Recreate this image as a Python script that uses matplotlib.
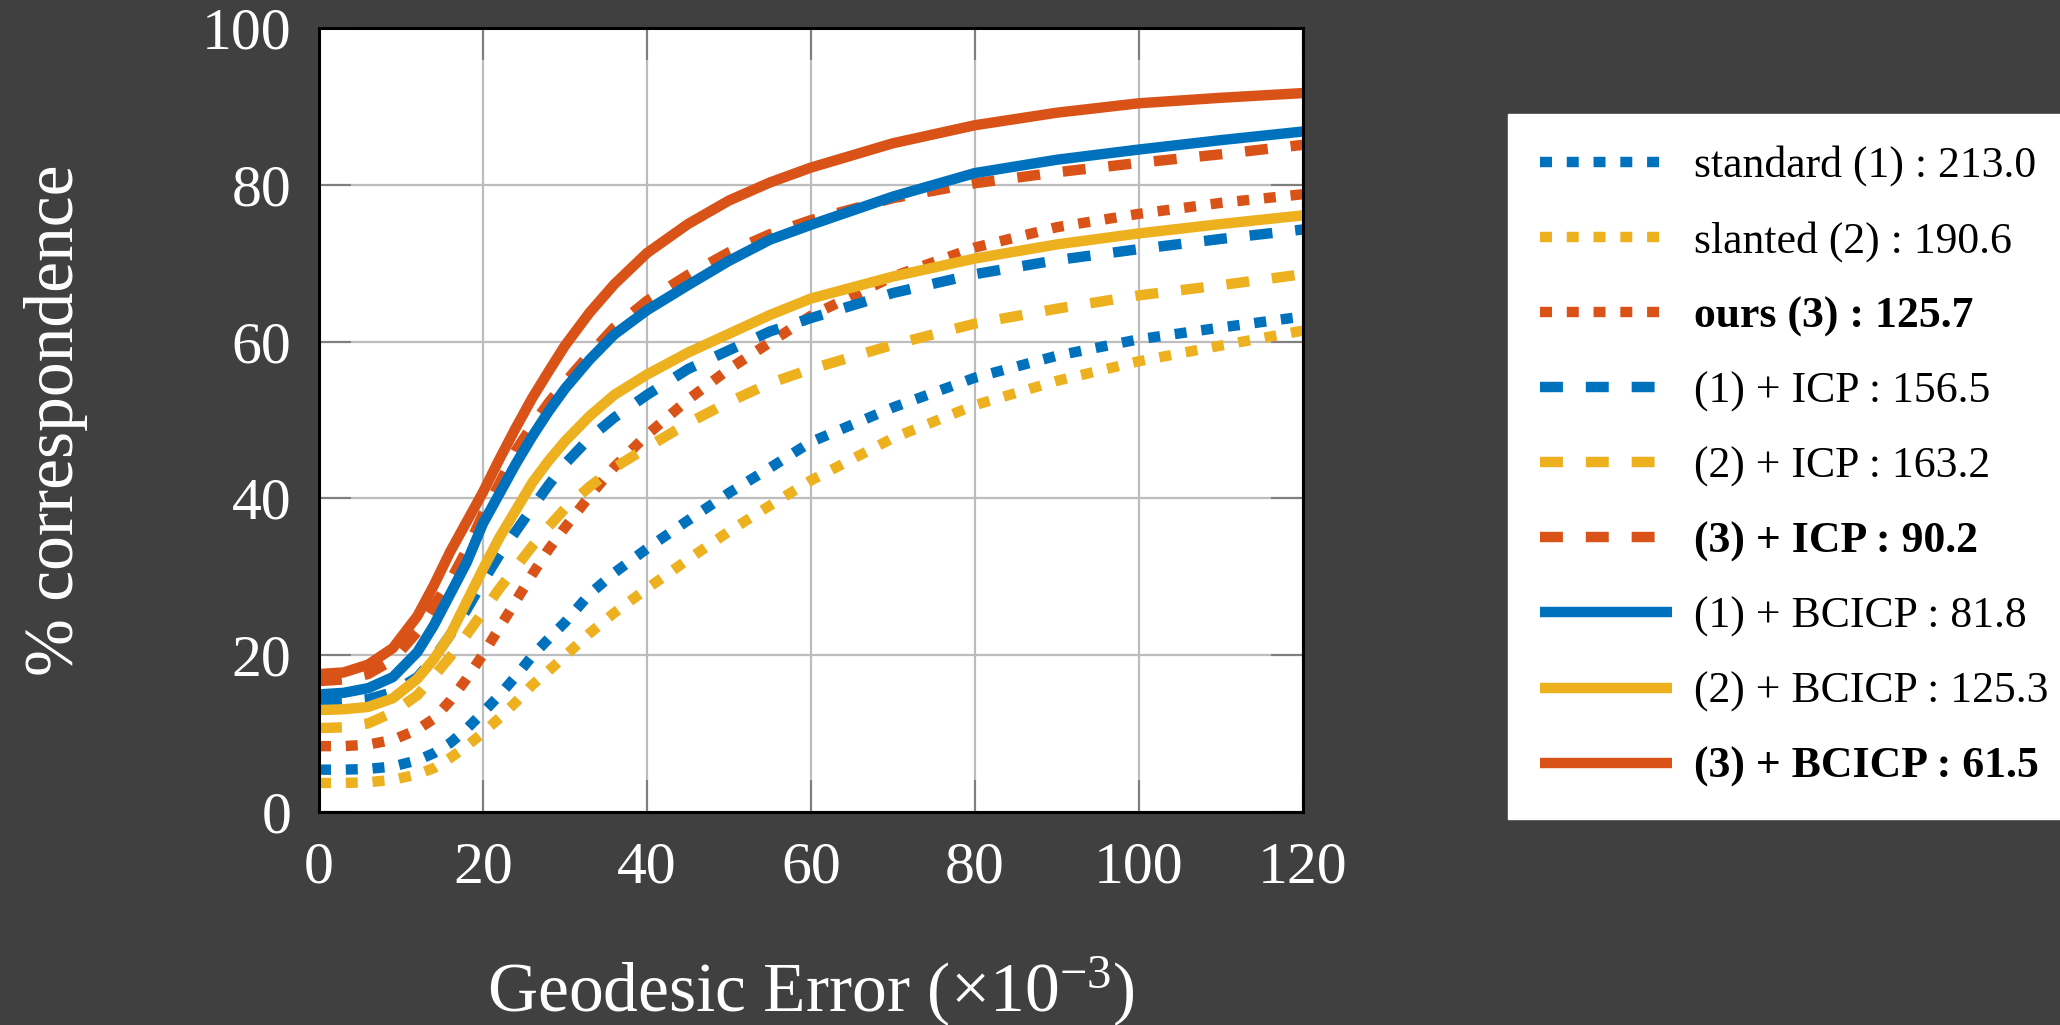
import matplotlib
matplotlib.use("Agg")
import matplotlib.pyplot as plt
import numpy as np

plt.rcParams['font.family'] = ['Liberation Serif', 'DejaVu Serif']
plt.rcParams['mathtext.fontset'] = 'custom'
plt.rcParams['mathtext.rm'] = 'Liberation Serif'
plt.rcParams['mathtext.it'] = 'Liberation Serif:italic'

# geodesic error (x1e-3)
err = [0, 3, 6, 9, 12, 14, 16, 18, 20, 22, 24, 26, 28, 30, 33, 36, 40, 45, 50, 55, 60,
       70, 80, 90, 100, 110, 120]

standard_1 = [5.4, 5.4, 5.5, 5.8, 6.6, 7.5, 8.8, 10.6, 12.7, 14.9, 17.3, 19.9, 22.1, 24.2, 27.8,
              30.5, 33.6, 37.2, 40.7, 43.9, 47.2, 51.6, 55.4, 58.2, 60.3, 61.8, 63.2]
slanted_2 = [3.7, 3.7, 3.8, 4.1, 4.8, 5.6, 6.9, 8.4, 10.1, 12.0, 14.0, 16.2, 18.0, 19.9, 22.8,
             25.4, 28.5, 32.2, 35.8, 39.1, 42.3, 47.7, 51.9, 55.0, 57.5, 59.5, 61.4]
ours_3 = [8.4, 8.4, 8.6, 9.2, 10.5, 11.9, 14.2, 17.0, 20.1, 23.5, 26.9, 30.3, 33.5, 36.3, 40.3,
          44.0, 48.1, 52.6, 56.5, 59.9, 63.3, 68.3, 72.0, 74.6, 76.3, 77.7, 78.8]
icp_1 = [14.0, 14.1, 14.4, 15.3, 17.2, 19.6, 22.6, 25.8, 29.4, 32.8, 35.8, 38.8, 41.7, 44.4, 47.7,
         50.3, 53.2, 56.5, 58.9, 61.3, 63.0, 66.2, 68.6, 70.4, 71.8, 73.1, 74.3]
icp_2 = [10.7, 10.8, 11.3, 12.7, 14.9, 17.3, 19.8, 22.6, 25.5, 28.5, 31.2, 33.9, 36.4, 38.7, 41.5,
         43.9, 46.5, 49.6, 52.3, 54.7, 56.5, 59.6, 62.3, 64.2, 65.9, 67.2, 68.6]
icp_3 = [16.7, 16.9, 17.6, 19.4, 23.0, 26.3, 29.5, 33.4, 38.0, 41.9, 46.1, 49.3, 52.2, 54.8, 58.4,
         61.8, 65.2, 68.5, 71.4, 73.7, 75.5, 78.3, 80.2, 81.6, 82.8, 83.9, 85.1]
bcicp_1 = [15.0, 15.2, 15.8, 17.2, 20.4, 23.8, 27.8, 31.8, 36.8, 40.6, 44.4, 47.9, 51.1, 54.0, 57.7,
           60.9, 64.0, 67.2, 70.3, 73.0, 74.9, 78.5, 81.5, 83.2, 84.5, 85.7, 86.8]
bcicp_2 = [13.0, 13.1, 13.4, 14.5, 17.0, 19.5, 22.6, 26.8, 31.0, 35.0, 38.5, 42.0, 44.8, 47.3, 50.5,
           53.2, 55.8, 58.6, 61.0, 63.4, 65.5, 68.3, 70.6, 72.4, 73.8, 75.0, 76.1]
bcicp_3 = [17.6, 17.8, 18.8, 20.9, 25.0, 28.9, 33.2, 37.0, 40.8, 45.0, 49.0, 52.8, 56.2, 59.5, 63.7,
           67.3, 71.3, 75.0, 78.0, 80.3, 82.2, 85.3, 87.6, 89.2, 90.4, 91.1, 91.7]

labels = ['standard (1) : 213.0', 'slanted (2) : 190.6', 'ours (3) : 125.7',
          '(1) + ICP : 156.5', '(2) + ICP : 163.2', '(3) + ICP : 90.2',
          '(1) + BCICP : 81.8', '(2) + BCICP : 125.3', '(3) + BCICP : 61.5']
bold_labels = [2, 5, 8]

blue = '#0072BD'
orange = '#D95319'
yellow = '#EDB120'

series = [standard_1, slanted_2, ours_3, icp_1, icp_2, icp_3, bcicp_1, bcicp_2, bcicp_3]
colors = [blue, yellow, orange] * 3
dotted = (1.15, 1.42)
dashed = (2.2, 2.2)
styles = [dotted] * 3 + [dashed] * 3 + [None] * 3

bg = '#404040'
fig = plt.figure(figsize=(20.6, 10.25), dpi=100, facecolor=bg)
ax = fig.add_axes([319 / 2060, 213 / 1025, 984 / 2060, 784 / 1025])
ax.set_facecolor('white')

handles = []
for s, c, st, lb in zip(series, colors, styles, labels):
    if st is None:
        ln, = ax.plot(err, s, color=c, lw=7.5, solid_capstyle='butt', solid_joinstyle='round', label=lb)
    else:
        ln, = ax.plot(err, s, color=c, lw=7.5, dashes=st, dash_capstyle='butt', label=lb)
    handles.append(ln)

ax.set_xlim(0, 120)
ax.set_ylim(0, 100)
ax.set_xticks(np.arange(0, 121, 20))
ax.set_yticks(np.arange(0, 101, 20))
ax.grid(True, color='#bdbdbd', lw=1.6)
ax.set_axisbelow(True)
ax.tick_params(direction='in', length=23, width=1.5, color='#7f7f7f',
               top=True, right=True, labelsize=43, labelcolor='white')
ax.tick_params(axis='x', pad=21)
ax.tick_params(axis='y', pad=20)
for sp in ax.spines.values():
    sp.set_color('black')
    sp.set_linewidth(2.2)

ax.set_xlabel(r'Geodesic Error ($\times 10^{-3}$)', fontsize=50, color='white', labelpad=43)
ax.set_ylabel('% correspondence', fontsize=50, color='white', labelpad=82)

leg = fig.legend(handles=handles, loc='upper left', bbox_to_anchor=(1508 / 2060, 1 - 114 / 1025),
                 borderaxespad=0, fontsize=31.5, frameon=True, fancybox=False,
                 handlelength=3.02, handletextpad=0.5, labelspacing=0.79, borderpad=0.72)
leg.get_frame().set_facecolor('white')
leg.get_frame().set_edgecolor('white')
leg.get_frame().set_alpha(1)
for i, t in enumerate(leg.get_texts()):
    t.set_color('black')
    if i in bold_labels:
        t.set_fontweight('bold')

fig.savefig('out.png', dpi=100, facecolor=bg)
